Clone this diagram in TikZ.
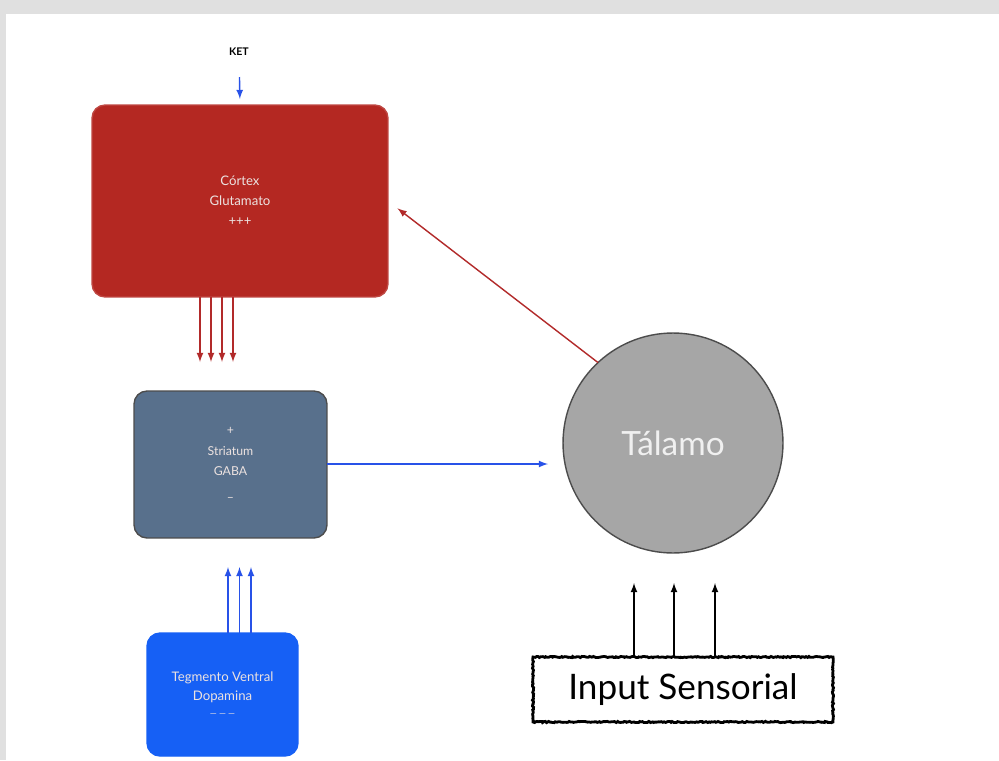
\documentclass[tikz,border=0pt]{standalone}
\usepackage{fontspec}
\setmainfont{Lato}
\usepackage{tikz}
\usetikzlibrary{decorations.pathmorphing}
\definecolor{ctxred}{RGB}{180,40,34}
\definecolor{arrred}{RGB}{178,42,42}
\definecolor{strslate}{RGB}{88,112,140}
\definecolor{tegblue}{RGB}{22,96,245}
\definecolor{arrblue}{RGB}{40,82,232}
\definecolor{talgray}{RGB}{166,166,166}
\definecolor{boxtext}{RGB}{236,226,224}
\begin{document}
\begin{tikzpicture}
  [x=0.02cm,y=-0.02cm,
  cortexbox/.style={rectangle,rounded corners=0.26cm,draw=ctxred!85!white,fill=ctxred,
                  thick,align=center,text=boxtext,outer sep=0,
                  font=\fontsize{7.5}{11.3}\selectfont},
  striatumbox/.style={rectangle,rounded corners=0.26cm,draw=black!70,fill=strslate,
                  thick,align=center,text=boxtext,outer sep=0,
                  font=\fontsize{7}{11.8}\selectfont},
  tegmentobox/.style={rectangle,rounded corners=0.26cm,draw=tegblue,fill=tegblue,
                  thick,align=center,text=boxtext,outer sep=0,
                  font=\fontsize{7.5}{10.5}\selectfont},
  talamocirc/.style={circle,draw=black!70,fill=talgray,thick,align=center,
                  text=white!94!black,outer sep=0,inner sep=0,
                  font=\fontsize{19}{22}\selectfont},
  inputbox/.style={rectangle,draw=black,line width=1.6pt,align=center,outer sep=0,
                  decorate,decoration={random steps,segment length=0.8pt,amplitude=0.35pt},
                  font=\fontsize{20}{24}\selectfont},
  ketlabel/.style={rectangle,align=center,font=\fontsize{6}{7}\selectfont\bfseries}
                  ]
  % page and its shadow
  \useasboundingbox (0,0) rectangle (999,760);
  \fill[black!12] (0,0) rectangle (999,760);
  \fill[white] (6,14) rectangle (999,760);

  \node[ketlabel] (ket) at (239,52) {KET};
  \node[cortexbox,minimum width=5.92cm,minimum height=3.84cm] (cortex) at (240,201)
    {Córtex\\Glutamato\\+++};
  \node[striatumbox,minimum width=3.86cm,minimum height=2.94cm] (striatum) at (230.5,464.5)
    {+\\Striatum\\GABA\\[3pt]--};
  \node[tegmentobox,minimum width=3.02cm,minimum height=2.46cm] (tegmento) at (222.5,694.5)
    {Tegmento Ventral\\Dopamina\\[-1pt]{\fontsize{5}{6}\selectfont --- --- ---}};
  \node[talamocirc,minimum size=4.4cm] (talamo) at (673,443) {Tálamo};
  \node[inputbox,minimum width=6cm,minimum height=1.3cm] (input) at (683,689.5)
    {Input Sensorial};

  % arrow ends
  \coordinate (g1) at (200,362);
  \coordinate (g2) at (211,362);
  \coordinate (g3) at (222,362);
  \coordinate (g4) at (233,362);
  \coordinate (d1) at (228,567);
  \coordinate (d2) at (239.5,567);
  \coordinate (d3) at (251,567);
  \coordinate (s1) at (634,583);
  \coordinate (s2) at (674,583);
  \coordinate (s3) at (715,583);
  \coordinate (t1) at (548,464);

  \draw[thick,arrblue,-latex,shorten <=0.3cm,shorten >=0.12cm] (ket) to (cortex.north);
  \foreach \g in {g1,g2,g3,g4}
    \draw[thick,arrred,-latex] (cortex.south -| \g) to (\g);
  \foreach \d in {d1,d2,d3}
    \draw[thick,arrblue,-latex] (tegmento.north -| \d) to (\d);
  \draw[thick,arrblue,-latex] (striatum.east |- t1) to (t1);
  \draw[thick,arrred,-latex,shorten >=0.24cm] (talamo.133) to (cortex.east);
  \foreach \s in {s1,s2,s3}
    \draw[thick,black,-latex] (input.north -| \s) to (\s);
\end{tikzpicture}
\end{document}
